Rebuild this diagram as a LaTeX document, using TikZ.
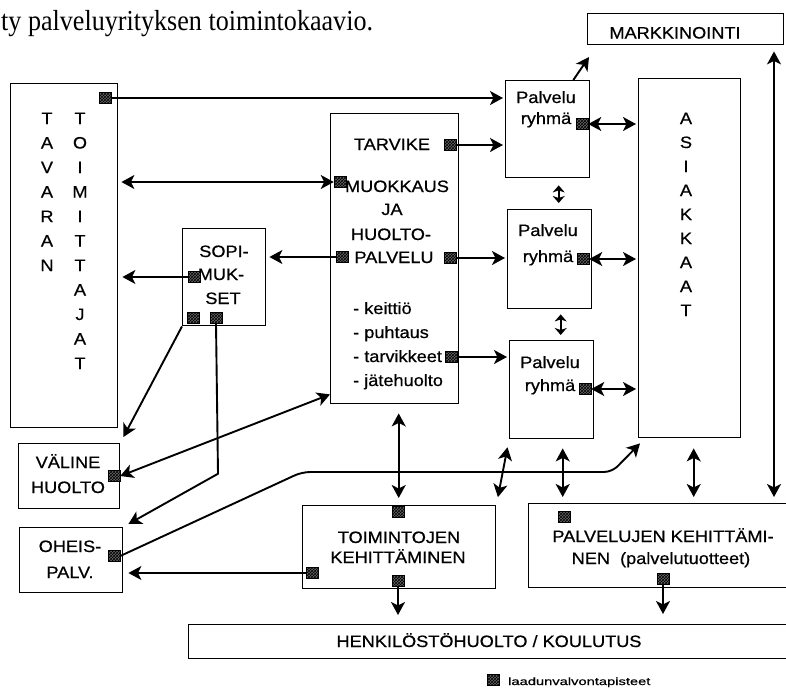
\documentclass[tikz,border=0pt]{standalone}
\usepackage{fontspec}
\setmainfont{Liberation Sans}
\newfontfamily\boxfont[FakeStretch=1.1,FakeBold=0.6]{Liberation Sans}
\newfontfamily\headfont[FakeStretch=0.9]{Liberation Serif}
\newfontfamily\notefont[FakeStretch=1.4,FakeBold=0.8]{Liberation Sans}
\usetikzlibrary{arrows.meta,calc,patterns}

\tikzset{
  box/.style={draw, line width=1.4pt, rectangle, inner sep=0pt, anchor=north west},
  lbl/.style={font=\boxfont\fontsize{16.5}{18}\selectfont, inner sep=0pt, anchor=base},
  lblw/.style={lbl, anchor=base west},
  qmark/.style={draw=black, line width=0.5pt, minimum width=12pt, minimum height=11pt,
    inner sep=0pt, preaction={fill=black!60}, pattern=crosshatch, pattern color=black},
  conn/.style={line width=1.9pt},
  head/.style={Stealth[length=13pt,width=14pt,inset=3.5pt]},
  tip/.style={conn, -{Stealth[length=13pt,width=14pt,inset=3.5pt]}},
  both/.style={conn, {Stealth[length=13pt,width=14pt,inset=3.5pt]}-{Stealth[length=13pt,width=14pt,inset=3.5pt]}},
  shortboth/.style={conn, {Stealth[length=7pt,width=12pt,inset=2pt]}-{Stealth[length=7pt,width=12pt,inset=2pt]}},
}

\begin{document}
\begin{tikzpicture}[x=1pt,y=-1pt]
\useasboundingbox (0,0) rectangle (786,691);

% heading
\node[anchor=base west, inner sep=0pt, font=\headfont\fontsize{29}{30}\selectfont] (title) at (1,30) {ty palveluyrityksen toimintokaavio.};

% boxes
\node[box, minimum width=107pt, minimum height=344pt] (tav) at (10,83) {};
\node[box, minimum width=196pt, minimum height=31pt]  (mark) at (587,13) {};
\node[box, minimum width=84pt,  minimum height=97pt]  (pr1) at (505,80) {};
\node[box, minimum width=84pt,  minimum height=99pt]  (pr2) at (507,209) {};
\node[box, minimum width=84pt,  minimum height=98pt]  (pr3) at (509,340) {};
\node[box, minimum width=102pt, minimum height=359pt] (asi) at (638,78) {};
\node[box, minimum width=128pt, minimum height=290pt] (cen) at (330,113) {};
\node[box, minimum width=83pt,  minimum height=97pt]  (sop) at (182,228) {};
\node[box, minimum width=101pt, minimum height=65pt]  (val) at (18,443) {};
\node[box, minimum width=103pt, minimum height=65pt]  (ohe) at (19,527) {};
\node[box, minimum width=193pt, minimum height=83pt]  (toi) at (302,505) {};
\node[box, minimum width=280pt, minimum height=84pt]  (pke) at (528,503) {};
\node[box, minimum width=620pt, minimum height=34pt]  (hen) at (188,624) {};

% vertical lettering
\foreach \ch [count=\i] in {T,A,V,A,R,A,N}
  \node[lbl] (tava\i) at (47,{99.5+24.5*\i}) {\ch};
\foreach \ch [count=\i] in {T,O,I,M,I,T,T,A,J,A,T}
  \node[lbl] (toim\i) at (80,{99.5+24.5*\i}) {\ch};
\foreach \ch [count=\i] in {A,S,I,A,K,K,A,A,T}
  \node[lbl] (asia\i) at (686,{100+24*\i}) {\ch};

% box texts
\node[lbl] (tmark) at (675,38.5) {MARKKINOINTI};
\node[lbl] (tpr1a) at (546,103) {Palvelu};
\node[lbl] (tpr1b) at (546,124) {ryhmä};
\node[lbl] (tpr2a) at (548,236) {Palvelu};
\node[lbl] (tpr2b) at (548,262) {ryhmä};
\node[lbl] (tpr3a) at (550,368) {Palvelu};
\node[lbl] (tpr3b) at (550,391) {ryhmä};

\node[lbl] (tcen1) at (392,150) {TARVIKE};
\node[lbl] (tcen2) at (397,192) {MUOKKAUS};
\node[lbl] (tcen3) at (392,215) {JA};
\node[lbl] (tcen4) at (391,240) {HUOLTO-};
\node[lbl] (tcen5) at (394,263) {PALVELU};
\node[lblw] (tli1) at (353,314) {- keittiö};
\node[lblw] (tli2) at (353,338) {- puhtaus};
\node[lblw] (tli3) at (353,362) {- tarvikkeet};
\node[lblw] (tli4) at (353,386) {- jätehuolto};

\node[lbl] (tsop1) at (224,257) {SOPI-};
\node[lbl] (tsop2) at (221,280) {MUK-};
\node[lbl] (tsop3) at (223,304) {SET};

\node[lbl] (tval1) at (68,468) {VÄLINE};
\node[lbl] (tval2) at (68,493) {HUOLTO};
\node[lbl] (tohe1) at (70,552) {OHEIS-};
\node[lbl] (tohe2) at (70,578) {PALV.};

\node[lbl] (ttoi1) at (399,543) {TOIMINTOJEN};
\node[lbl] (ttoi2) at (398,563) {KEHITTÄMINEN};
\node[lbl] (tpke1) at (663,542) {PALVELUJEN KEHITTÄMI-};
\node[lbl] (tpke2) at (661,564) {NEN\ \ (palvelutuotteet)};
\node[lbl] (then) at (489,647) {HENKILÖSTÖHUOLTO / KOULUTUS};

% quality control points
\node[qmark] (qa) at (105,98) {};
\node[qmark] (qb) at (340,182) {};
\node[qmark] (qc) at (450,145) {};
\node[qmark] (qe) at (450,258) {};
\node[qmark] (qg) at (342,257) {};
\node[qmark] (qi) at (451,357) {};
\node[qmark] (qd) at (582,124) {};
\node[qmark] (qf) at (583,259) {};
\node[qmark] (qj) at (585,389) {};
\node[qmark] (qh) at (194,277) {};
\node[qmark] (qk) at (193,318) {};
\node[qmark] (ql) at (216,318) {};
\node[qmark] (qm) at (114,476) {};
\node[qmark] (qn) at (114,556) {};
\node[qmark] (qo) at (312,573) {};
\node[qmark] (qr) at (398,512) {};
\node[qmark] (qq) at (398,581) {};
\node[qmark] (qp) at (564,517) {};
\node[qmark] (qs) at (663,579) {};

% legend
\node[qmark] (qt) at (493,680) {};
\node[anchor=base west, inner sep=0pt, font=\notefont\fontsize{10.5}{12}\selectfont] (legend) at (508,685) {laadunvalvontapisteet};

% free ends and guide lines
\coordinate (mk) at (589,57);
\coordinate (rv) at (774,0);

% connectors
\draw[tip, shorten >=2pt] (qa.east) -- (qa -| pr1.west);
\draw[both, shorten <=3pt] (qb -| tav.east) -- (qb.west);
\draw[tip, shorten >=2pt] (qc.east) -- (qc -| pr1.west);
\draw[tip] ($(pr1.north west)!0.8!(pr1.north east)$) -- (mk);
\draw[both, shorten >=2pt] (qd.east) -- (qd -| asi.west);
\draw[shortboth, shorten <=7pt, shorten >=6pt] ([xshift=11pt]pr1.south) -- ([xshift=11pt]pr1.south |- pr2.north);
\draw[tip, shorten >=2pt] (qe.east) -- (qe -| pr2.west);
\draw[both, shorten >=2pt] (qf.east) -- (qf -| asi.west);
\draw[tip, shorten >=3pt] (qg.west) -- (qg -| sop.east);
\draw[tip, shorten >=4pt] (qh.west) -- (qh -| tav.east);
\draw[shortboth, shorten <=5pt, shorten >=5pt] ([xshift=11pt]pr2.south) -- ([xshift=11pt]pr2.south |- pr3.north);
\draw[tip, shorten >=2pt] (qi.east) -- (qi -| pr3.west);
\draw[both, shorten >=2pt] (qj.east) -- (qj -| asi.west);

\draw[tip] (sop.south west) -- ($(val.north east)+(3,-6)$);
\draw[tip] (ql.south) -- ++(2,150) -- ($(ohe.north east)+(5,-3)$);
\draw[both] (qm.east) -- ([yshift=10pt]cen.south west);
\draw[tip, rounded corners=8pt] (qn.east) -- (302,472) -- (612,472) -- ($(asi.south west)+(2,5)$);
\draw[tip, shorten >=5pt] (qo.west) -- (qo -| ohe.east);

\draw[both, shorten <=9pt, shorten >=7pt] ([xshift=4pt]cen.south) -- ([xshift=4pt]cen.south |- toi.north);
\draw[both, shorten <=8pt, shorten >=8pt] (toi.north east) -- (pr3.south west);
\draw[both, shorten <=9pt, shorten >=6pt] ([xshift=11pt]pr3.south) -- ([xshift=11pt]pr3.south |- pke.north);
\draw[both, shorten <=10pt, shorten >=6pt] ([xshift=4pt]asi.south) -- ([xshift=4pt]asi.south |- pke.north);
\draw[both, shorten <=6pt, shorten >=6pt] (rv |- mark.south) -- (rv |- pke.north);

\draw[tip, shorten >=9pt] (qq.south) -- (qq.south |- hen.north);
\draw[tip, shorten >=10pt] (qs.south) -- (qs.south |- hen.north);
\end{tikzpicture}
\end{document}
